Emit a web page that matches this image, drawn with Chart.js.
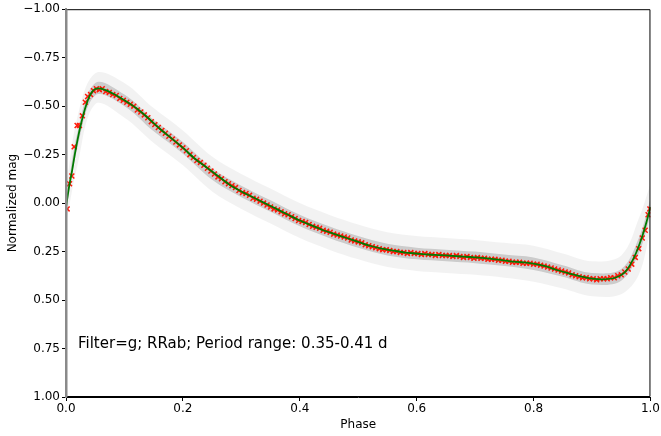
<!DOCTYPE html>
<html>
<head>
<meta charset="utf-8">
<script src="https://cdn.jsdelivr.net/npm/chart.js@4.4.1/dist/chart.umd.min.js"></script>
<style>
  html, body { margin: 0; padding: 0; background: #fff; }
  #wrap { width: 661px; height: 436px; }
</style>
</head>
<body>
<div id="wrap"><canvas id="lc"></canvas></div>
<script>
// binned means (red crosses)
const binPhase = [0.002,0.006,0.010,0.014,0.019,0.023,0.028,0.033,0.037,0.042,0.047,0.052,0.057,0.062,0.068,0.074,0.080,0.086,0.092,0.098,
  0.104,0.110,0.116,0.122,0.128,0.134,0.140,0.146,0.152,0.158,0.164,0.170,0.176,0.182,0.188,0.194,0.200,0.206,0.212,0.218,
  0.224,0.230,0.236,0.242,0.248,0.254,0.260,0.266,0.272,0.278,0.284,0.290,0.296,0.302,0.308,0.314,0.320,0.326,0.332,0.338,
  0.344,0.350,0.356,0.362,0.368,0.374,0.380,0.386,0.392,0.398,0.404,0.410,0.416,0.422,0.428,0.434,0.440,0.446,0.452,0.458,
  0.464,0.470,0.476,0.482,0.488,0.494,0.500,0.506,0.512,0.518,0.524,0.530,0.536,0.542,0.548,0.554,0.560,0.566,0.572,0.578,
  0.584,0.590,0.596,0.602,0.608,0.614,0.620,0.626,0.632,0.638,0.644,0.650,0.656,0.662,0.668,0.674,0.680,0.686,0.692,0.698,
  0.704,0.710,0.716,0.722,0.728,0.734,0.740,0.746,0.752,0.758,0.764,0.770,0.776,0.782,0.788,0.794,0.800,0.806,0.812,0.818,
  0.824,0.830,0.836,0.842,0.848,0.854,0.860,0.866,0.872,0.878,0.884,0.890,0.896,0.902,0.908,0.914,0.920,0.926,0.932,0.938,
  0.944,0.950,0.956,0.962,0.968,0.974,0.980,0.986,0.991,0.996,0.999];
const binMag = [0.03,-0.10,-0.14,-0.29,-0.40,-0.40,-0.45,-0.52,-0.55,-0.56,-0.58,-0.59,-0.585,-0.59,-0.575,-0.57,-0.56,-0.555,-0.54,-0.53,
  -0.52,-0.51,-0.50,-0.48,-0.47,-0.455,-0.44,-0.42,-0.405,-0.39,-0.375,-0.36,-0.345,-0.33,-0.315,-0.30,-0.285,-0.27,-0.25,-0.235,
  -0.22,-0.21,-0.195,-0.18,-0.165,-0.15,-0.135,-0.125,-0.11,-0.10,-0.09,-0.08,-0.065,-0.055,-0.05,-0.04,-0.025,-0.02,-0.01,0.00,
  0.01,0.02,0.03,0.035,0.045,0.055,0.06,0.07,0.08,0.09,0.095,0.10,0.11,0.12,0.125,0.13,0.14,0.145,0.15,0.16,
  0.165,0.17,0.175,0.18,0.19,0.195,0.20,0.205,0.215,0.22,0.225,0.23,0.235,0.24,0.24,0.245,0.25,0.25,0.255,0.255,
  0.26,0.255,0.26,0.26,0.265,0.26,0.265,0.265,0.27,0.265,0.27,0.27,0.27,0.275,0.27,0.275,0.28,0.275,0.28,0.285,
  0.28,0.285,0.285,0.29,0.29,0.29,0.295,0.295,0.30,0.30,0.305,0.305,0.305,0.31,0.31,0.31,0.315,0.315,0.32,0.325,
  0.33,0.335,0.34,0.345,0.35,0.355,0.36,0.37,0.375,0.38,0.385,0.385,0.39,0.39,0.395,0.39,0.39,0.39,0.385,0.385,
  0.375,0.37,0.355,0.34,0.315,0.28,0.235,0.18,0.14,0.06,0.03];

// fitted curve (green)
const fitPhase = [0.000,0.005,0.010,0.015,0.020,0.025,0.030,0.035,0.040,0.045,0.050,0.055,0.060,0.070,0.080,0.090,0.100,0.120,0.140,0.160,
  0.180,0.200,0.220,0.240,0.260,0.280,0.300,0.320,0.340,0.360,0.380,0.400,0.420,0.440,0.460,0.480,0.500,0.520,0.540,0.560,
  0.580,0.600,0.620,0.640,0.660,0.680,0.700,0.720,0.740,0.760,0.780,0.800,0.820,0.840,0.860,0.880,0.900,0.920,0.940,0.955,
  0.965,0.975,0.985,0.993,1.000];
const fitMag = [0.02,-0.08,-0.16,-0.25,-0.33,-0.40,-0.46,-0.51,-0.55,-0.575,-0.588,-0.592,-0.59,-0.58,-0.565,-0.548,-0.53,-0.49,-0.44,-0.385,
  -0.335,-0.285,-0.23,-0.185,-0.14,-0.095,-0.06,-0.03,0.00,0.03,0.06,0.09,0.115,0.14,0.16,0.18,0.20,0.22,0.235,0.245,
  0.255,0.26,0.265,0.268,0.272,0.276,0.28,0.285,0.292,0.30,0.305,0.312,0.325,0.345,0.362,0.378,0.39,0.393,0.385,0.36,
  0.32,0.26,0.18,0.10,0.02];

// spread of the individual points (grey density)
const bandPhase = [0,0.02,0.05,0.1,0.15,0.2,0.25,0.3,0.35,0.4,0.45,0.5,0.55,0.6,0.65,0.7,0.75,0.8,0.85,0.9,0.95,0.98,1.0];
const innerHi = [-0.01,-0.37,-0.62,-0.56,-0.43,-0.315,-0.18,-0.09,-0.015,0.06,0.12,0.17,0.21,0.23,0.24,0.25,0.265,0.28,0.32,0.36,0.34,0.18,-0.02];
const innerLo = [0.05,-0.29,-0.555,-0.50,-0.37,-0.255,-0.12,-0.03,0.045,0.12,0.18,0.23,0.27,0.29,0.30,0.31,0.325,0.345,0.38,0.42,0.40,0.26,0.06];
const outerHi = [-0.08,-0.45,-0.67,-0.62,-0.49,-0.375,-0.24,-0.15,-0.075,0.00,0.06,0.11,0.15,0.17,0.18,0.19,0.205,0.22,0.26,0.30,0.27,0.08,-0.10];
const outerLo = [0.11,-0.20,-0.51,-0.44,-0.31,-0.195,-0.06,0.03,0.105,0.18,0.24,0.29,0.33,0.35,0.36,0.37,0.385,0.405,0.44,0.48,0.47,0.37,0.14];

const yTicks = [-1,-0.75,-0.5,-0.25,0,0.25,0.5,0.75,1];
const xTicks = [0,0.2,0.4,0.6,0.8,1.0];
const note = 'Filter=g; RRab; Period range: 0.35-0.41 d';

const pts = (xs, ys) => xs.map((x, i) => ({ x: x, y: ys[i] }));
const FONT = 'DejaVu Sans';

const frame = {
  id: 'frame',
  afterDatasetsDraw(chart) {
    const { ctx, chartArea: a } = chart;
    ctx.save();
    ctx.strokeStyle = '#000';
    ctx.lineWidth = 1;
    ctx.beginPath();
    ctx.moveTo(a.left, a.top + 0.5);
    ctx.lineTo(a.right - 0.5, a.top + 0.5);
    ctx.lineTo(a.right - 0.5, a.bottom - 0.5);
    ctx.lineTo(a.left, a.bottom - 0.5);
    ctx.stroke();
    ctx.strokeStyle = '#8a8a8a';
    ctx.lineWidth = 2;
    ctx.beginPath();
    ctx.moveTo(a.left + 0.5, a.top);
    ctx.lineTo(a.left + 0.5, a.bottom);
    ctx.stroke();
    ctx.fillStyle = '#000';
    ctx.font = '15px "' + FONT + '"';
    ctx.textBaseline = 'middle';
    ctx.fillText(note, 78, 344);
    ctx.restore();
  }
};

new Chart(document.getElementById('lc'), {
  type: 'scatter',
  data: {
    datasets: [
      { label: 'fit', data: pts(fitPhase, fitMag), showLine: true, borderColor: '#007a00', borderWidth: 1.8,
        pointRadius: 0, tension: 0.3, order: 0 },
      { label: 'bins', data: pts(binPhase, binMag), pointStyle: 'crossRot', pointRadius: 3.5,
        borderColor: '#ff1a0a', borderWidth: 1.5, order: 1 },
      { label: 'innerHi', data: pts(bandPhase, innerHi), showLine: true, borderWidth: 0, pointRadius: 0, tension: 0.35, order: 2 },
      { label: 'innerLo', data: pts(bandPhase, innerLo), showLine: true, borderWidth: 0, pointRadius: 0, tension: 0.35,
        fill: 2, backgroundColor: 'rgba(0,0,0,0.16)', order: 2 },
      { label: 'outerHi', data: pts(bandPhase, outerHi), showLine: true, borderWidth: 0, pointRadius: 0, tension: 0.35, order: 3 },
      { label: 'outerLo', data: pts(bandPhase, outerLo), showLine: true, borderWidth: 0, pointRadius: 0, tension: 0.35,
        fill: 4, backgroundColor: 'rgba(0,0,0,0.05)', order: 3 }
    ]
  },
  options: {
    responsive: true,
    maintainAspectRatio: false,
    animation: false,
    layout: { padding: { top: 8, right: 10, left: 0, bottom: 0 } },
    plugins: { legend: { display: false }, tooltip: { enabled: false } },
    scales: {
      x: {
        type: 'linear', min: 0, max: 1,
        afterBuildTicks: s => { s.ticks = xTicks.map(v => ({ value: v })); },
        afterFit: s => { s.height = 39; },
        grid: { drawOnChartArea: false, drawTicks: true, tickLength: 4, tickColor: '#000' },
        border: { color: '#000' },
        ticks: { color: '#000', font: { family: FONT, size: 12 }, padding: 1, maxRotation: 0,
          callback: v => v.toFixed(1) },
        title: { display: true, text: 'Phase', color: '#000', font: { family: FONT, size: 12 }, padding: { top: 0, bottom: 4 } }
      },
      y: {
        type: 'linear', min: -1, max: 1, reverse: true,
        afterBuildTicks: s => { s.ticks = yTicks.map(v => ({ value: v })); },
        afterFit: s => { s.width = 66; },
        grid: { drawOnChartArea: false, drawTicks: true, tickLength: 4, tickColor: '#000' },
        border: { color: '#8a8a8a', width: 2 },
        ticks: { color: '#000', font: { family: FONT, size: 12 }, padding: 2,
          callback: v => (v < 0 ? '\u2212' : '') + Math.abs(v).toFixed(2) },
        title: { display: true, text: 'Normalized mag', color: '#000', font: { family: FONT, size: 12 }, padding: { top: 6, bottom: 0 } }
      }
    }
  },
  plugins: [frame]
});
</script>
</body>
</html>
